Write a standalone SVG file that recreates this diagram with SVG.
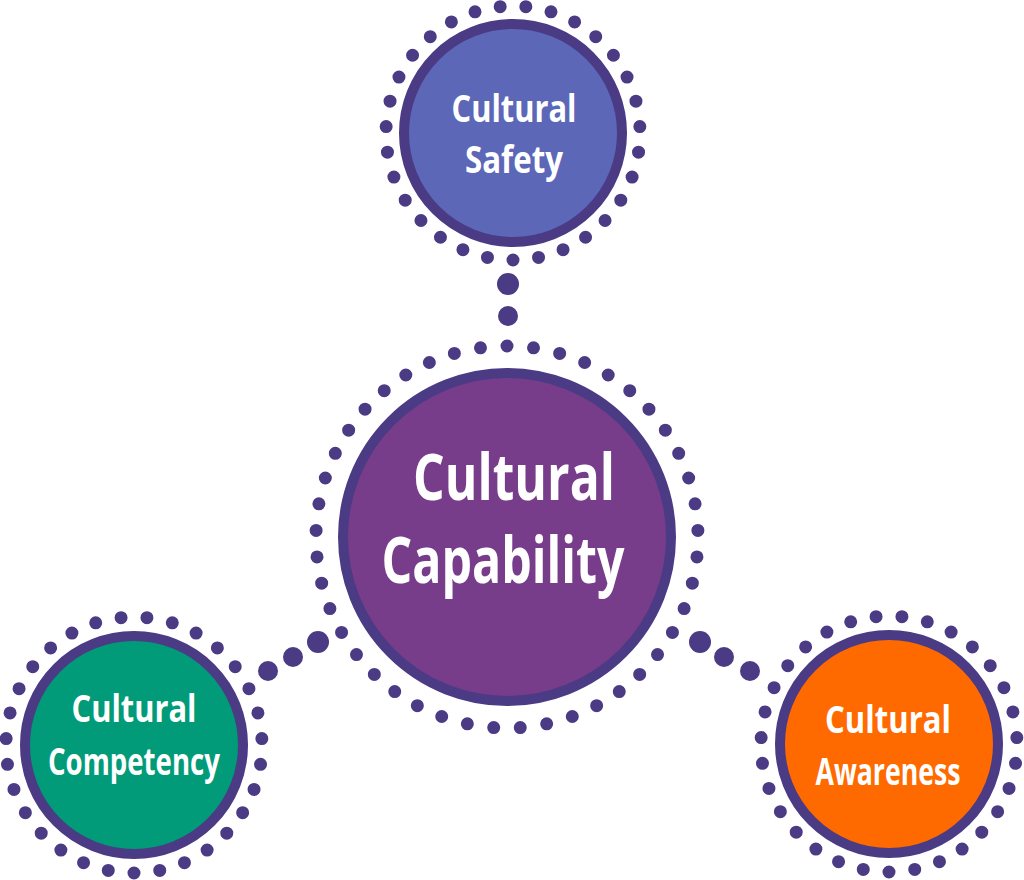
<svg xmlns="http://www.w3.org/2000/svg" width="1024" height="880" viewBox="0 0 1024 880">
<style>
.ring{fill:none;stroke:#4b3a84;stroke-width:13;stroke-linecap:round;stroke-dasharray:0 1}
.disc{stroke:#4b3a84;stroke-width:10}
.lbl{font-family:"Open Sans","Lato","DejaVu Sans",sans-serif;font-weight:700;fill:#ffffff;text-anchor:middle}
.dot{fill:#4b3a84}
</style>
<rect width="1024" height="880" fill="#ffffff"/>
<g id="connectors">
<circle class="dot" cx="508" cy="284" r="11"/>
<circle class="dot" cx="508" cy="316" r="10"/>
<circle class="dot" cx="318" cy="642" r="11"/>
<circle class="dot" cx="293" cy="657" r="10"/>
<circle class="dot" cx="268" cy="671" r="10"/>
<circle class="dot" cx="700" cy="642" r="11"/>
<circle class="dot" cx="724" cy="657" r="10"/>
<circle class="dot" cx="750" cy="671" r="10"/>
</g>
<g id="cultural-safety">
<circle class="ring" cx="513" cy="133" r="127" pathLength="31" transform="rotate(90 513 133)"/>
<circle class="disc" cx="513" cy="133" r="109" fill="#5c67b8"/>
<text class="lbl" x="514" y="122" font-size="38" textLength="125" lengthAdjust="spacingAndGlyphs">Cultural</text>
<text class="lbl" x="514" y="173" font-size="38" textLength="98" lengthAdjust="spacingAndGlyphs">Safety</text>
</g>
<g id="cultural-capability">
<circle class="ring" cx="507" cy="537" r="191" pathLength="45" transform="rotate(-90 507 537)"/>
<circle class="disc" cx="507" cy="537" r="164" fill="#773d8b"/>
<text class="lbl" x="514" y="500" font-size="64" textLength="202" lengthAdjust="spacingAndGlyphs">Cultural</text>
<text class="lbl" x="503" y="583" font-size="64" textLength="243" lengthAdjust="spacingAndGlyphs">Capability</text>
</g>
<g id="cultural-competency">
<circle class="ring" cx="134" cy="745" r="128" pathLength="31" transform="rotate(90 134 745)"/>
<circle class="disc" cx="134" cy="745" r="109" fill="#019b79"/>
<text class="lbl" x="134" y="722" font-size="38" textLength="125" lengthAdjust="spacingAndGlyphs">Cultural</text>
<text class="lbl" x="134" y="775" font-size="38" textLength="172" lengthAdjust="spacingAndGlyphs">Competency</text>
</g>
<g id="cultural-awareness">
<circle class="ring" cx="889" cy="744" r="128" pathLength="31" transform="rotate(90 889 744)"/>
<circle class="disc" cx="889" cy="744" r="109" fill="#ff6a00"/>
<text class="lbl" x="888" y="733" font-size="38" textLength="126" lengthAdjust="spacingAndGlyphs">Cultural</text>
<text class="lbl" x="888" y="785" font-size="38" textLength="145" lengthAdjust="spacingAndGlyphs">Awareness</text>
</g>
</svg>
